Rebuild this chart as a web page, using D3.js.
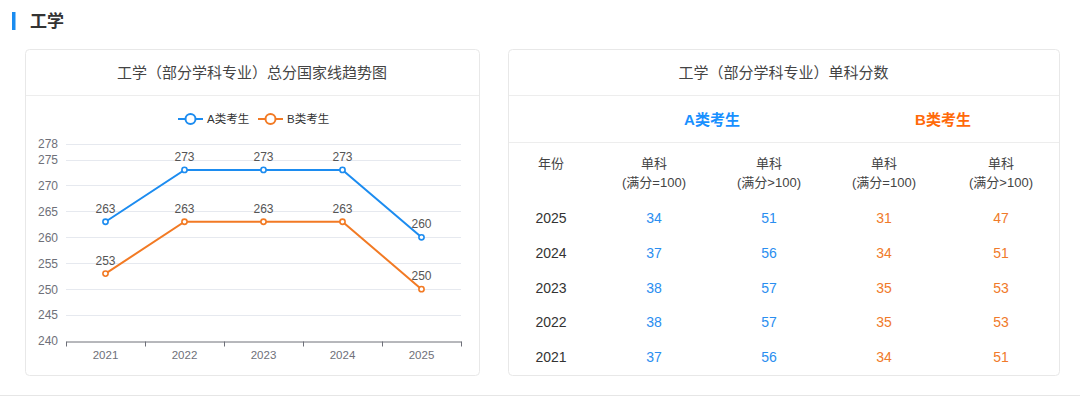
<!DOCTYPE html>
<html>
<head>
<meta charset="utf-8">
<script src="https://cdn.jsdelivr.net/npm/d3@7"></script>
<style>
  body { margin: 0; background: #fff; }
  svg { display: block; font-family: "Liberation Sans", Arial, "Noto Sans CJK SC", sans-serif; }
</style>
</head>
<body>
<div id="chart"></div>
<script>
// data
const years = ["2021", "2022", "2023", "2024", "2025"];
const seriesA = [263, 273, 273, 273, 260];
const seriesB = [253, 263, 263, 263, 250];
const yTicks = [240, 245, 250, 255, 260, 265, 270, 275, 278];

const tableYears = ["2025", "2024", "2023", "2022", "2021"];
const aFull100 = [34, 37, 38, 38, 37];
const aOver100 = [51, 56, 57, 57, 56];
const bFull100 = [31, 34, 35, 35, 34];
const bOver100 = [47, 51, 53, 53, 51];

const blue = "#1c8cf0", orange = "#f27a24";

const svg = d3.select("#chart").append("svg")
    .attr("width", 1080)
    .attr("height", 397);

// section heading
svg.append("rect").attr("x", 12).attr("y", 12).attr("width", 3.5).attr("height", 18).attr("fill", "#1a8cf0");
svg.append("text").attr("x", 30).attr("y", 27)
    .attr("font-size", 17).attr("font-weight", "bold").attr("fill", "#333")
    .text("工学");

// bottom separator
svg.append("rect").attr("x", 0).attr("y", 395).attr("width", 1080).attr("height", 1).attr("fill", "#e6e6e6");

// cards
function card(x, w, title) {
    svg.append("rect").attr("x", x + 0.5).attr("y", 49.5).attr("width", w).attr("height", 326)
        .attr("rx", 4).attr("fill", "#fff").attr("stroke", "#e8e8e8");
    svg.append("line").attr("x1", x + 1).attr("x2", x + w).attr("y1", 95.5).attr("y2", 95.5)
        .attr("stroke", "#ededed");
    svg.append("text").attr("x", x + w / 2).attr("y", 77.5)
        .attr("text-anchor", "middle").attr("font-size", 15).attr("fill", "#444")
        .text(title);
}
card(25, 454, "工学（部分学科专业）总分国家线趋势图");
card(508, 551, "工学（部分学科专业）单科分数");

// ---- line chart ----
const x = d3.scaleBand().domain(years).range([66, 461]);
const y = d3.scaleLinear().domain([240, 278]).range([341, 144]);

const grid = svg.append("g");
grid.selectAll("line").data(yTicks.filter(d => d > 240)).join("line")
    .attr("x1", 66).attr("x2", 461)
    .attr("y1", d => Math.round(y(d)) + 0.5).attr("y2", d => Math.round(y(d)) + 0.5)
    .attr("stroke", "#e6e9ef");

const yAxis = svg.append("g")
    .attr("transform", "translate(66,0)")
    .call(d3.axisLeft(y).tickValues(yTicks).tickSize(0).tickPadding(8));
yAxis.select(".domain").remove();
yAxis.selectAll("text").attr("font-size", 12).attr("fill", "#6e7079")
    .attr("font-family", "\"Liberation Sans\", Arial, sans-serif");

const xAxis = svg.append("g")
    .attr("transform", "translate(0,341.5)")
    .call(d3.axisBottom(x).tickSize(0).tickPadding(9));
xAxis.select(".domain").attr("stroke", "#6e7079");
xAxis.selectAll("text").attr("font-size", 11.5).attr("fill", "#6e7079")
    .attr("font-family", "\"Liberation Sans\", Arial, sans-serif");
// boundary ticks between bands
const bounds = years.map(d => x(d)).concat([x.range()[1]]);
svg.append("g").selectAll("line").data(bounds).join("line")
    .attr("x1", d => Math.round(d) + 0.5).attr("x2", d => Math.round(d) + 0.5)
    .attr("y1", 341.5).attr("y2", 346.5)
    .attr("stroke", "#6e7079");

const cx = d => x(d) + x.bandwidth() / 2;
const line = d3.line().x(d => cx(d.year)).y(d => y(d.v));

[[seriesA, blue], [seriesB, orange]].forEach(([vals, col]) => {
    const pts = years.map((yr, i) => ({ year: yr, v: vals[i] }));
    svg.append("path").datum(pts)
        .attr("d", line).attr("fill", "none").attr("stroke", col).attr("stroke-width", 2);
    svg.append("g").selectAll("circle").data(pts).join("circle")
        .attr("cx", d => cx(d.year)).attr("cy", d => y(d.v)).attr("r", 2.6)
        .attr("fill", "#fff").attr("stroke", col).attr("stroke-width", 1.6);
    svg.append("g").selectAll("text").data(pts).join("text")
        .attr("x", d => cx(d.year)).attr("y", d => y(d.v) - 9)
        .attr("text-anchor", "middle").attr("font-size", 12).attr("fill", "#555")
        .text(d => d.v);
});

// legend
const legend = [["A类考生", blue, 178], ["B类考生", orange, 258]];
legend.forEach(([label, col, lx]) => {
    const g = svg.append("g").attr("transform", `translate(${lx},119)`);
    g.append("line").attr("x1", 0).attr("x2", 25).attr("stroke", col).attr("stroke-width", 2);
    g.append("circle").attr("cx", 12.5).attr("r", 5).attr("fill", "#fff").attr("stroke", col).attr("stroke-width", 2);
    g.append("text").attr("x", 29).attr("y", 4).attr("font-size", 11.5).attr("fill", "#333").text(label);
});

// ---- table ----
svg.append("line").attr("x1", 509).attr("x2", 1059).attr("y1", 142.5).attr("y2", 142.5).attr("stroke", "#ededed");
svg.append("text").attr("x", 712).attr("y", 125).attr("text-anchor", "middle")
    .attr("font-size", 15).attr("font-weight", "bold").attr("fill", "#1890ff").text("A类考生");
svg.append("text").attr("x", 943).attr("y", 125).attr("text-anchor", "middle")
    .attr("font-size", 15).attr("font-weight", "bold").attr("fill", "#ff6a0a").text("B类考生");

const colX = [551, 654, 769, 884, 1001];
const heads = [["年份"], ["单科", "(满分=100)"], ["单科", "(满分>100)"], ["单科", "(满分=100)"], ["单科", "(满分>100)"]];
heads.forEach((lines, i) => {
    lines.forEach((t, j) => {
        svg.append("text").attr("x", colX[i]).attr("y", 168 + j * 19)
            .attr("text-anchor", "middle").attr("font-size", 13).attr("fill", "#444").text(t);
    });
});

const rowY = d3.scaleBand().domain(tableYears).range([201, 374]);
const cols = [[tableYears, "#333"], [aFull100, "#2a8ef0"], [aOver100, "#2a8ef0"], [bFull100, "#f07a2a"], [bOver100, "#f07a2a"]];
cols.forEach(([vals, col], i) => {
    svg.append("g").selectAll("text").data(vals).join("text")
        .attr("x", colX[i]).attr("y", (d, k) => rowY(tableYears[k]) + rowY.bandwidth() / 2 + 5)
        .attr("text-anchor", "middle").attr("font-size", 14).attr("fill", col)
        .text(d => d);
});
</script>
</body>
</html>
